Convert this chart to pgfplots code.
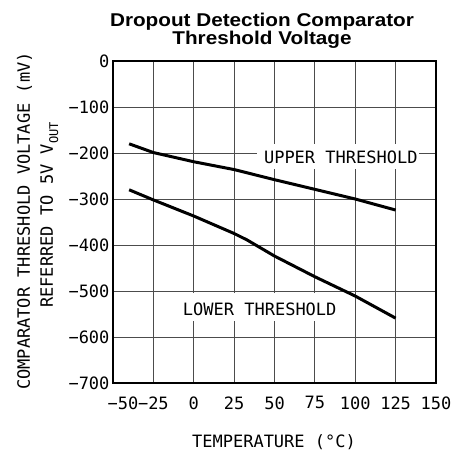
\documentclass[border=0pt]{standalone}
\usepackage{pgfplots}
\pgfplotsset{compat=1.18}
\usepackage{fontspec}
\newfontfamily\monof{DejaVu Sans Mono}
\newfontfamily\titlef[FakeStretch=1.12]{Liberation Sans}
\pgfplotstableread{
T V
-40 -180
-25 -199
0 -219
25 -236
50 -258
75 -279
100 -300
125 -324
}\uppertab
\pgfplotstableread{
T V
-40 -280
-25 -302
0 -337
25 -375
33 -389
50 -424
75 -469
100 -511
125 -559
}\lowertab
\begin{document}
\begin{tikzpicture}
\useasboundingbox (-113pt,-68pt) rectangle (342pt,383pt);
\begin{axis}[
  at={(0pt,0pt)}, anchor=south west,
  scale only axis, width=323pt, height=322pt,
  xmin=-50, xmax=150, ymin=-700, ymax=0,
  xtick={-50,-25,0,25,50,75,100,125,150},
  xticklabels={{\hspace*{20pt}−50},−25,0,25,50,75,100,125,150},
  ytick={-700,-600,-500,-400,-300,-200,-100,0},
  yticklabels={−700,−600,−500,−400,−300,−200,−100,0},
  major tick length=0pt,
  tick label style={font=\monof\fontsize{17}{17}\selectfont},
  xticklabel style={yshift=-10pt},
  grid=major,
  major grid style={line width=0.8pt, color=black!70},
  axis line style={line width=1.5pt, black},
]
\addplot[black, line width=3pt, line join=round] table[x=T,y=V] {\uppertab};
\addplot[black, line width=3pt, line join=round] table[x=T,y=V] {\lowertab};
\end{axis}
\node[fill=white, inner sep=0pt, minimum width=162pt, minimum height=25pt] at (225pt,227pt) {};
\node[inner sep=0pt] at (227.8pt,226pt) {\monof\fontsize{17}{17}\selectfont UPPER THRESHOLD};
\node[fill=white, inner sep=0pt, minimum width=162pt, minimum height=28pt] at (147pt,76pt) {};
\node[inner sep=0pt] at (146.7pt,74.1pt) {\monof\fontsize{17}{17}\selectfont LOWER THRESHOLD};
\node[anchor=base, inner sep=0pt] at (149pt,356pt) {\titlef\bfseries\fontsize{18.5}{18.5}\selectfont Dropout Detection Comparator};
\node[anchor=base, inner sep=0pt] at (149pt,339pt) {\titlef\bfseries\fontsize{18.5}{18.5}\selectfont Threshold Voltage};
\node[anchor=base, inner sep=0pt] at (161pt,-64.5pt) {\monof\fontsize{17}{17}\selectfont TEMPERATURE (°C)};
\node[anchor=base, inner sep=0pt, rotate=90] at (-83pt,162pt) {\monof\fontsize{17}{17}\selectfont COMPARATOR THRESHOLD VOLTAGE (mV)};
\node[anchor=base, inner sep=0pt, rotate=90] at (-60pt,168pt) {\monof\fontsize{17}{17}\selectfont REFERRED TO 5V V\raisebox{-0.3em}{\fontsize{12}{12}\selectfont OUT}};
\end{tikzpicture}
\end{document}
